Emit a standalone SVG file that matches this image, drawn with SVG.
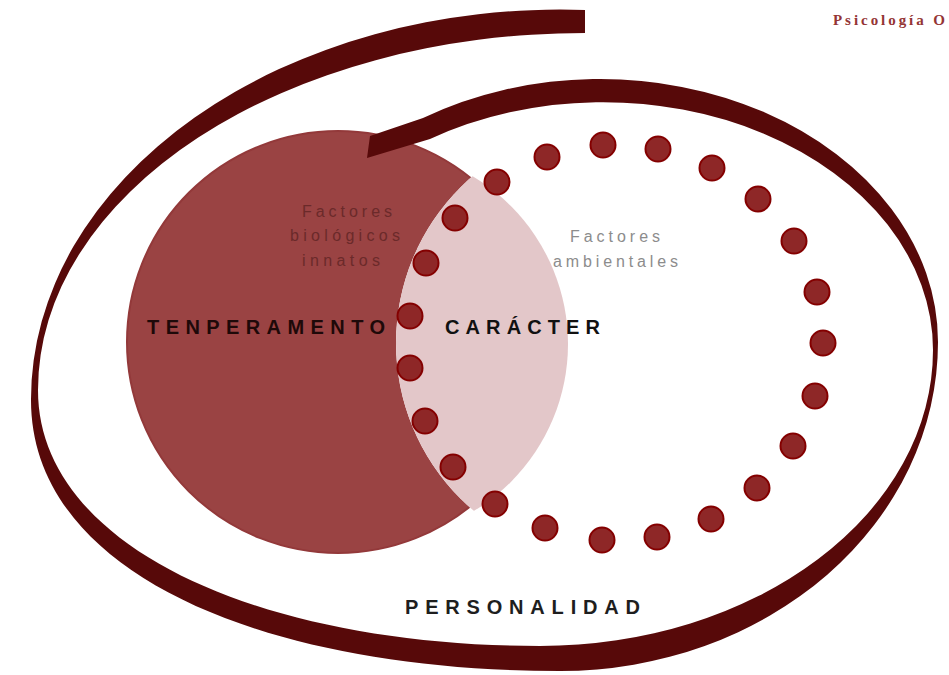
<svg xmlns="http://www.w3.org/2000/svg" width="949" height="675" viewBox="0 0 949 675">
<defs>
<style>
.lbl{font-family:"Liberation Sans","DejaVu Sans",sans-serif;}
.big{font-size:20px;font-weight:bold;}
.small{font-size:16px;}
.dot{fill:#8e2727;stroke:#840000;stroke-width:2;}
</style>
<mask id="outsideD"><rect width="949" height="675" fill="#fff"/><circle cx="616" cy="343" r="220" fill="#000"/></mask>
<clipPath id="insideD"><circle cx="616" cy="343" r="220"/></clipPath>
</defs>
<rect width="949" height="675" fill="#fff"/>
<g id="temperamento">
<circle cx="338" cy="342" r="211" fill="#9a4343" stroke="#93393a" stroke-width="2" mask="url(#outsideD)"/>
</g>
<g id="caracter">
<circle cx="373" cy="344" r="195" fill="#e3c7c9" clip-path="url(#insideD)"/>
</g>
<g id="dots">
<circle class="dot" cx="497" cy="182" r="12.5"/>
<circle class="dot" cx="455" cy="218" r="12.5"/>
<circle class="dot" cx="426" cy="263" r="12.5"/>
<circle class="dot" cx="410" cy="316" r="12.5"/>
<circle class="dot" cx="410" cy="368" r="12.5"/>
<circle class="dot" cx="425" cy="421" r="12.5"/>
<circle class="dot" cx="453" cy="467" r="12.5"/>
<circle class="dot" cx="495" cy="504" r="12.5"/>
<circle class="dot" cx="545" cy="528" r="12.5"/>
<circle class="dot" cx="602" cy="540" r="12.5"/>
<circle class="dot" cx="657" cy="537" r="12.5"/>
<circle class="dot" cx="711" cy="519" r="12.5"/>
<circle class="dot" cx="757" cy="488" r="12.5"/>
<circle class="dot" cx="793" cy="446" r="12.5"/>
<circle class="dot" cx="815" cy="396" r="12.5"/>
<circle class="dot" cx="823" cy="343" r="12.5"/>
<circle class="dot" cx="817" cy="292" r="12.5"/>
<circle class="dot" cx="794" cy="241" r="12.5"/>
<circle class="dot" cx="758" cy="199" r="12.5"/>
<circle class="dot" cx="712" cy="168" r="12.5"/>
<circle class="dot" cx="658" cy="149" r="12.5"/>
<circle class="dot" cx="603" cy="145" r="12.5"/>
<circle class="dot" cx="547" cy="157" r="12.5"/>
</g>
<g id="personalidad">
<path fill="#570909" d="M585,10 A529,390 0 0 0 31,400 C31,576 269,671 560,671 A378,329 0 0 0 938,342 A338,263 0 0 0 423,118 L370,136 L367,158 L430,139 A330,248 0 0 1 933,350 A393,296 0 0 1 540,646 C264,646 38,549 38,390 A547,357 0 0 1 585,33 Z"/>
</g>
<g id="labels" class="lbl">
<text class="big" x="147" y="334" fill="#1e0909" textLength="238" lengthAdjust="spacing">TENPERAMENTO</text>
<text class="big" x="445" y="334" fill="#111" textLength="155" lengthAdjust="spacing">CARÁCTER</text>
<text class="big" x="405" y="614" fill="#1e1e1e" textLength="235" lengthAdjust="spacing">PERSONALIDAD</text>
<text class="small" x="302" y="217" fill="#6b2a2a" textLength="90" lengthAdjust="spacing">Factores</text>
<text class="small" x="290" y="241" fill="#6b2a2a" textLength="110" lengthAdjust="spacing">biológicos</text>
<text class="small" x="302" y="266" fill="#6b2a2a" textLength="78" lengthAdjust="spacing">innatos</text>
<text class="small" x="570" y="242" fill="#8c8c8c" textLength="90" lengthAdjust="spacing">Factores</text>
<text class="small" x="553" y="267" fill="#8c8c8c" textLength="125" lengthAdjust="spacing">ambientales</text>
<text x="833" y="25" fill="#943535" font-family="'Liberation Serif',serif" font-size="15" font-weight="bold" textLength="112" lengthAdjust="spacing">Psicología O</text>
</g>
</svg>
